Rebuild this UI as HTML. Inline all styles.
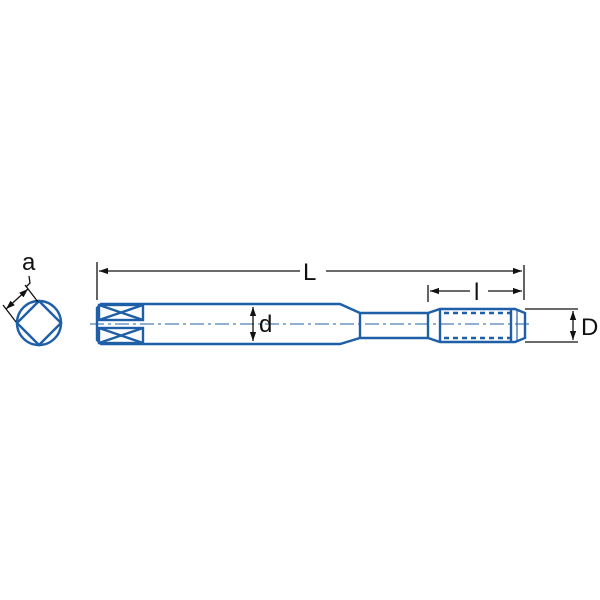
<!DOCTYPE html>
<html><head><style>
html,body{margin:0;padding:0;background:#fff;}
svg{display:block;}
text{font-family:"Liberation Sans",Arial,sans-serif;fill:#111;}
</style></head><body>
<svg width="600" height="600" viewBox="0 0 600 600" xmlns="http://www.w3.org/2000/svg">
<defs>
<marker id="ar" viewBox="0 0 10 10" refX="10" refY="5" markerWidth="9" markerHeight="9" orient="auto-start-reverse" markerUnits="userSpaceOnUse"><path d="M0,1.5 L10,5 L0,8.5 z" fill="#111"/></marker>
</defs>
<g stroke="#1f5fa8" stroke-width="2.4" fill="none">
<circle cx="39" cy="323" r="22"/>
<path d="M39,301 L61,323 L39,345 L17,323 Z"/>
<path d="M101,304 L340,304 L360,313 L428,313 L440,309 L515,309 L525,313 L525,338 L515,342 L440,342 L428,338 L360,338 L340,344 L101,344 L97,340 L97,308 Z"/>
<line x1="360" y1="313" x2="360" y2="338"/>
<line x1="428" y1="313" x2="428" y2="338"/>
<line x1="440" y1="309" x2="440" y2="342"/>
<line x1="511" y1="309" x2="511" y2="342"/>
<line x1="517" y1="309" x2="517" y2="342" stroke-width="1.2"/>
<rect x="99" y="305" width="44" height="15"/>
<rect x="99" y="328" width="44" height="15"/>
<path d="M99,305 L143,320 M143,305 L99,320 M99,328 L143,343 M143,328 L99,343"/>
<line x1="444" y1="313" x2="512" y2="313" stroke-dasharray="5,4"/>
<line x1="444" y1="338" x2="512" y2="338" stroke-dasharray="5,4"/>
</g>
<line x1="90" y1="324" x2="532" y2="324" stroke="#1f5fa8" stroke-width="1" stroke-dasharray="14,4,3,4"/>
<g stroke="#111" stroke-width="1.3" fill="none">
<line x1="97" y1="262" x2="97" y2="300"/>
<line x1="524" y1="265" x2="524" y2="300"/>
<line x1="99" y1="271" x2="300" y2="271" marker-start="url(#ar)"/>
<line x1="326" y1="271" x2="522" y2="271" marker-end="url(#ar)"/>
<line x1="428" y1="285" x2="428" y2="302"/>
<line x1="430" y1="291" x2="470" y2="291" marker-start="url(#ar)"/>
<line x1="488" y1="291" x2="522" y2="291" marker-end="url(#ar)"/>
<line x1="525" y1="309" x2="578" y2="309"/>
<line x1="525" y1="342" x2="578" y2="342"/>
<line x1="573" y1="311" x2="573" y2="340" marker-start="url(#ar)" marker-end="url(#ar)"/>
<line x1="253" y1="307" x2="253" y2="341" marker-start="url(#ar)" marker-end="url(#ar)"/>
<line x1="16" y1="322" x2="3" y2="305"/>
<line x1="38" y1="302" x2="25" y2="285"/>
<line x1="6" y1="309" x2="28" y2="289" marker-start="url(#ar)" marker-end="url(#ar)"/>
<path d="M26,287 L30,283 L29,276"/>
</g>
<text x="22" y="270" font-size="24">a</text>
<text x="303" y="280" font-size="24">L</text>
<text x="474" y="300" font-size="24">l</text>
<text x="259" y="332" font-size="24">d</text>
<text x="581" y="335" font-size="24">D</text>
</svg>
</body></html>
